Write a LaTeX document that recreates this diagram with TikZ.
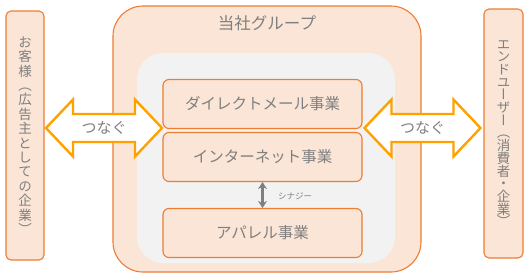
\documentclass[tikz,border=0pt]{standalone}
\usepackage{fontspec}
\setmainfont{Noto Sans CJK JP}
\newfontfamily\jpvert[RawFeature=+vert]{Noto Sans CJK JP}
\usetikzlibrary{arrows.meta,positioning}
\definecolor{ink}{HTML}{7F7F7F}
\definecolor{edge}{HTML}{ED7D31}
\definecolor{peach}{HTML}{FBE5D6}
\definecolor{panel}{HTML}{F2F2F2}
\definecolor{linkorange}{HTML}{FFA200}

\begin{document}
\begin{tikzpicture}[
  x=1pt, y=-1pt,
  text=ink,
  group/.style={
    draw=edge,
    line width=1.1pt,
    fill=peach,
    rounded corners=30pt,
    minimum width=308pt,
    minimum height=266pt,
    inner sep=0pt
  },
  panelbox/.style={
    fill=panel,
    rounded corners=26pt,
    minimum width=258pt,
    minimum height=210pt,
    inner sep=0pt
  },
  business/.style={
    draw=edge,
    line width=1.1pt,
    fill=peach,
    rounded corners=6pt,
    minimum width=199pt,
    minimum height=49pt,
    inner sep=0pt,
    font=\fontsize{15.5}{18}\selectfont
  },
  party/.style={
    draw=edge,
    line width=1.1pt,
    fill=peach,
    rounded corners=5pt,
    minimum width=38pt,
    minimum height=249pt,
    inner sep=0pt,
    align=center
  },
  linkarrow/.style={draw=linkorange, line width=2.4pt, fill=white, line join=miter},
  synergy/.style={{Stealth[length=7pt,width=9pt]}-{Stealth[length=7pt,width=9pt]}, line width=2.8pt, draw=ink},
  pics/twoway/.style={code={
    \draw[linkarrow] (-58,0) -- (-31,-28.5) -- (-31,-14) -- (31,-14) -- (31,-28.5)
      -- (58,0) -- (31,28.5) -- (31,14) -- (-31,14) -- (-31,28.5) -- cycle;
  }}
]
\useasboundingbox (0,0) rectangle (528,277);

% Group with its businesses
\node[group] (group) at (267,139) {};
\node[panelbox] (panel) at (266,158) {};
\node[font=\fontsize{16.5}{19}\selectfont] (grouptitle) at (267,23) {当社グループ};

\node[business] (directmail) at (262.5,104) {ダイレクトメール事業};
\node[business] (internet) at (262.5,157) {インターネット事業};
\node[business] (apparel) at (262.5,233) {アパレル事業};

\draw[synergy] (internet.south) -- (apparel.north);
\node[font=\fontsize{8.5}{10}\selectfont] (synergylabel) at (295,196) {シナジー};

% Parties on both sides
\node[party, font=\jpvert\fontsize{13.5}{14.4}\selectfont] (customer) at (25,135.5)
  {お\\客\\様\\（\\広\\告\\主\\と\\し\\て\\の\\企\\業\\）};
\node[party, minimum width=39pt, font=\jpvert\fontsize{13.5}{12.7}\selectfont] (enduser) at (503.5,133.5)
  {エ\\ン\\ド\\ユ\\ー\\ザ\\ー\\（\\消\\費\\者\\・\\企\\業\\）};

% Links
\pic at (104,128) {twoway};
\node[font=\fontsize{15}{18}\selectfont] (linkleft) at (104,128) {つなぐ};
\pic at (422.5,128) {twoway};
\node[font=\fontsize{15}{18}\selectfont] (linkright) at (422.5,128) {つなぐ};

\end{tikzpicture}
\end{document}
